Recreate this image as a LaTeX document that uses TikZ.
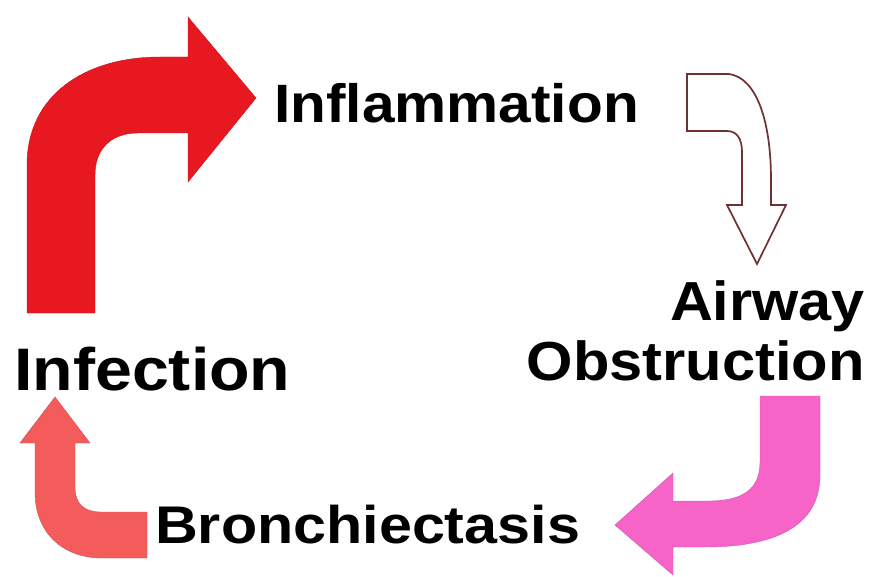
\documentclass[tikz,border=0pt]{standalone}
\usepackage{fontspec}
\setmainfont{Liberation Sans}
\definecolor{redarrow}{RGB}{232,24,32}
\definecolor{pinkarrow}{RGB}{246,100,200}
\definecolor{salmonarrow}{RGB}{244,92,92}
\definecolor{hollowline}{RGB}{110,50,50}
\tikzset{
  lbl/.style={inner sep=0pt, font=\bfseries},
  bigarrow/.style={draw=#1!85!black, line width=0.4pt, fill=#1},
  hollowarrow/.style={draw=hollowline, line width=1.7pt, fill=white, line join=miter}
}
\begin{document}
\begin{tikzpicture}[x=1pt,y=-1pt]
\useasboundingbox[fill=white] (0,0) rectangle (869,577);
% red arrow: Infection -> Inflammation
\path[bigarrow=redarrow] (27,313) -- (27,165)
  .. controls (27,95) and (85,57) .. (160,57) -- (188,57) -- (188,17)
  -- (256,98) -- (188,182) -- (188,133) -- (138,133)
  .. controls (112,133) and (95,148) .. (95,175) -- (95,313) -- cycle;
% hollow arrow: Inflammation -> Airway Obstruction
\path[hollowarrow] (687,74) -- (729,74)
  .. controls (757,78) and (771,122) .. (771,180) -- (771,205) -- (786,205)
  -- (757,264) -- (727,205) -- (742,205) -- (742,152)
  .. controls (742,139) and (737,131) .. (727,131) -- (687,131) -- cycle;
% pink arrow: Airway Obstruction -> Bronchiectasis
\path[bigarrow=pinkarrow] (760,396) -- (820,396) -- (820,475)
  .. controls (820,522) and (782,547) .. (705,547) -- (673,547) -- (673,575)
  -- (615,525) -- (673,473) -- (673,501) -- (708,501)
  .. controls (742,501) and (760,490) .. (760,462) -- cycle;
% salmon arrow: Bronchiectasis -> Infection
\path[bigarrow=salmonarrow] (55,397) -- (90,443) -- (75,443) -- (75,488)
  .. controls (75,503) and (84,512) .. (100,512) -- (147,512) -- (147,558)
  -- (102,558) .. controls (62,558) and (35,532) .. (35,492) -- (35,443)
  -- (20,443) -- cycle;
% labels
\node[lbl, anchor=base west] (inflam) at (274,123)
  {\fontsize{54}{60}\selectfont\scalebox{1.085}[1]{Inflammation}};
\node[lbl, anchor=base west] (infect) at (14,390)
  {\fontsize{60}{66}\selectfont\scalebox{1.105}[1]{Infection}};
\node[lbl, anchor=base east] (airway) at (865,320)
  {\fontsize{55}{60}\selectfont\scalebox{1.08}[1]{Airway}};
\node[lbl, anchor=base east] (obstr) at (865,380)
  {\fontsize{55}{60}\selectfont\scalebox{1.085}[1]{Obstruction}};
\node[lbl, anchor=base west] (bronch) at (155,543)
  {\fontsize{53}{60}\selectfont\scalebox{1.118}[1]{Bronchiectasis}};
\end{tikzpicture}
\end{document}
